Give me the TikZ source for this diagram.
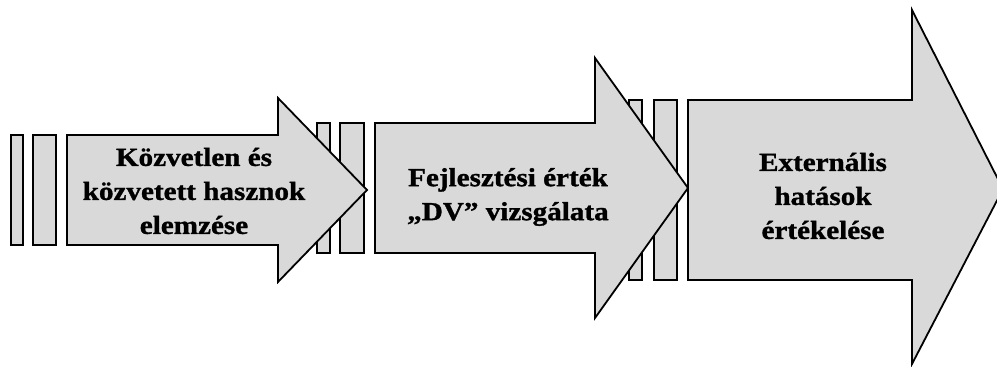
\documentclass[tikz,border=0pt]{standalone}
\usepackage{fontspec}
\setmainfont{Liberation Serif}
\newfontfamily\stagefont[FakeStretch=1.12, BoldFeatures={FakeBold=1.2}]{Liberation Serif}
\usetikzlibrary{positioning}
\definecolor{StageGray}{RGB}{217,217,217}
\tikzset{
    stagearrow/.style={draw=black, line width=0.9pt, fill=StageGray, line join=miter},
    stagebar/.style={draw=black, line width=0.9pt, fill=StageGray},
    stagetext/.style={align=center, inner sep=0pt, font=\stagefont\bfseries\fontsize{13}{17}\selectfont},
}

\begin{document}
\begin{tikzpicture}[x=0.5pt, y=-0.5pt]
\clip (0,0) rectangle (997,367);

% bars behind each stage
\draw[stagebar] (11,135) rectangle (23,245);
\draw[stagebar] (33,135) rectangle (56,245);
\draw[stagebar] (317,123) rectangle (330,253);
\draw[stagebar] (340,123) rectangle (364,253);
\draw[stagebar] (629,100) rectangle (642,280);
\draw[stagebar] (654,100) rectangle (677,280);

% stages
\draw[stagearrow] (67,135) -- (278,135) -- (278,98) -- (367,190) -- (278,282) -- (278,245) -- (67,245) -- cycle;
\draw[stagearrow] (375,123) -- (595,123) -- (595,58) -- (688,188) -- (595,318) -- (595,253) -- (375,253) -- cycle;
\draw[stagearrow] (688,100) -- (912,100) -- (912,10) -- (1003,189) -- (912,364) -- (912,280) -- (688,280) -- cycle;

\node[stagetext] (direct) at (194,191) {Közvetlen és\\közvetett hasznok\\elemzése};
\node[stagetext] (devval) at (508,197) {Fejlesztési érték\\„DV” vizsgálata};
\node[stagetext] (extern) at (823,196) {Externális\\hatások\\értékelése};
\end{tikzpicture}
\end{document}
